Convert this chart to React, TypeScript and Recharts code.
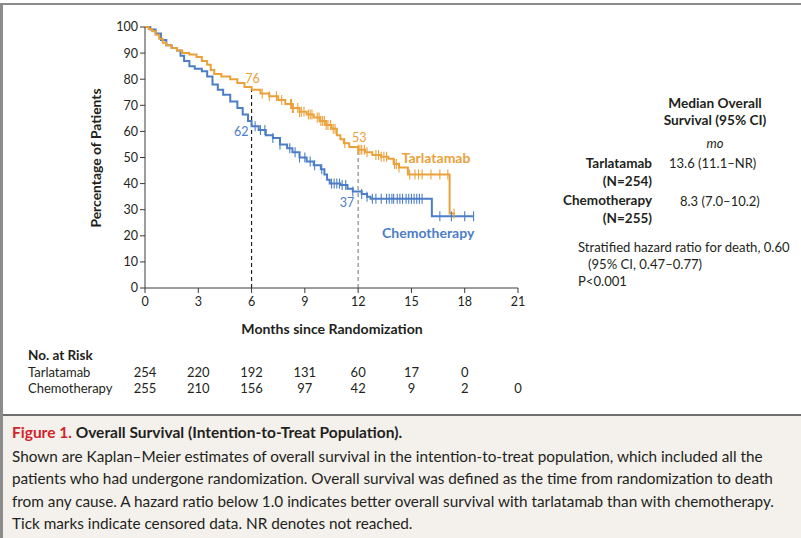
import {
  ComposedChart,
  Line,
  Scatter,
  XAxis,
  YAxis,
  ReferenceLine,
  ReferenceDot,
} from 'recharts';

const ORANGE = '#EBA13A';
const BLUE = '#4C7EC7';
const FONT = 'Lato, "Open Sans", sans-serif';

// Kaplan-Meier steps (months, % surviving)
const tarlaT = [0, 0.2, 0.4, 0.6, 0.8, 1.0, 1.2, 1.5, 1.8, 2.1, 2.5, 2.9, 3.2, 3.5, 3.7, 3.9, 4.3, 4.8, 5.2, 5.6, 6.0, 6.5, 7.0, 7.5, 7.9, 8.3, 8.7, 9.1, 9.5, 9.85, 10.2, 10.5, 10.8, 11.0, 11.2, 11.5, 12.0, 12.4, 12.8, 13.3, 13.7, 14.0, 14.3, 14.8, 17.15, 17.45];
const tarlaS = [100, 99.2, 98.4, 97, 95.5, 94, 93, 92, 91, 90, 89.5, 88.5, 87, 85.5, 83.5, 82, 81, 80, 78.5, 77, 76, 74.5, 73.5, 72, 70.5, 69, 67.5, 66.5, 65.3, 64, 62.5, 61, 58.5, 57, 55.5, 54, 53, 52, 51, 50.3, 49.5, 47.5, 46.2, 43.5, 28.5, 28.5];
const chemoT = [0, 0.3, 0.6, 0.9, 1.2, 1.5, 1.8, 2.0, 2.2, 2.5, 2.8, 3.2, 3.5, 3.8, 4.1, 4.4, 4.8, 5.2, 5.5, 5.8, 6.0, 6.4, 6.8, 7.2, 7.6, 8.0, 8.3, 8.7, 9.1, 9.5, 9.9, 10.1, 10.25, 10.4, 11.0, 11.4, 11.7, 12.2, 12.5, 12.7, 16.15, 18.5];
const chemoS = [100, 99, 97.5, 95, 93, 92, 91, 89, 87, 85, 84, 83, 81, 78, 76, 74, 71.5, 69, 66.5, 64, 62, 60.5, 58.5, 57.5, 55, 53.5, 52, 50, 48.5, 47, 45.5, 43.5, 41.5, 40, 39.5, 38, 37, 36, 35, 34.2, 27.5, 27.5];

// censored observations (months)
const tarlaCensor = [6.6, 7.0, 7.4, 7.7, 8.2, 8.25, 8.3, 8.35, 8.6, 8.7, 8.8, 8.95, 9.2, 9.3, 9.4, 9.7, 9.8, 9.9, 10.0, 10.1, 10.2, 10.3, 10.45, 10.6, 10.7, 11.25, 12.0, 12.1, 12.2, 12.35, 12.5, 13.0, 13.15, 13.3, 13.45, 13.6, 14.05, 14.15, 14.3, 14.9, 15.2, 15.4, 15.6, 16.1, 16.6, 17.05, 17.4];
const chemoCensor = [6.2, 6.5, 6.75, 7.2, 7.6, 8.15, 8.45, 8.7, 9.0, 9.3, 9.55, 9.95, 10.5, 10.65, 10.8, 10.95, 11.1, 11.3, 11.7, 12.2, 12.5, 12.8, 13.0, 13.3, 13.6, 13.75, 13.9, 14.0, 14.2, 14.35, 14.5, 14.7, 14.85, 15.0, 15.15, 15.3, 15.45, 15.6, 16.6, 17.25, 18.0, 18.5];

const monthTicks = [0, 3, 6, 9, 12, 15, 18, 21];
const pctTicks = [0, 10, 20, 30, 40, 50, 60, 70, 80, 90, 100];
const riskTarla = ['254', '220', '192', '131', '60', '17', '0', ''];
const riskChemo = ['255', '210', '156', '97', '42', '9', '2', '0'];

const captionLines = [
  'Shown are Kaplan–Meier estimates of overall survival in the intention-to-treat population, which included all the',
  'patients who had undergone randomization. Overall survival was defined as the time from randomization to death',
  'from any cause. A hazard ratio below 1.0 indicates better overall survival with tarlatamab than with chemotherapy.',
  'Tick marks indicate censored data. NR denotes not reached.',
];

const toSteps = (ts: number[], ss: number[]) => ts.map((t, i) => ({ t, s: ss[i] }));
const tarla = toSteps(tarlaT, tarlaS);
const chemo = toSteps(chemoT, chemoS);

const survAt = (steps: { t: number; s: number }[], t: number) => {
  let s = steps[0].s;
  for (const p of steps) if (p.t <= t) s = p.s;
  return s;
};
const tarlaMarks = tarlaCensor.map(t => ({ t, s: survAt(tarla, t) }));
const chemoMarks = chemoCensor.map(t => ({ t, s: survAt(chemo, t) }));

// plot area in page pixels
const PLOT_L = 145;
const PLOT_R = 518;
const xPx = (m: number) => PLOT_L + (m / 21) * (PLOT_R - PLOT_L);

function CensorTick(props: any) {
  const { cx, cy, fill } = props;
  if (cx == null || cy == null) return null;
  return <line x1={cx} x2={cx} y1={cy - 5} y2={cy + 5} stroke={fill} strokeWidth={1.1} />;
}

function tagLabel(text: string, color: string, dx: number, dy: number, anchor: string, size = 12.5, bold = false) {
  return {
    content: (p: any) => {
      const vb = p.viewBox || {};
      const x = (vb.x ?? 0) + (vb.width ?? 0) / 2;
      const y = (vb.y ?? 0) + (vb.height ?? 0) / 2;
      return (
        <text x={x + dx} y={y + dy} fill={color} fontSize={size} fontWeight={bold ? 700 : 400} textAnchor={anchor} fontFamily={FONT}>
          {text}
        </text>
      );
    },
  };
}

const abs = (left: number, top: number, extra: any = {}) => ({
  position: 'absolute' as const,
  left,
  top,
  whiteSpace: 'nowrap' as const,
  ...extra,
});

export default function App() {
  return (
    <div style={{ position: 'relative', width: 801, height: 538, background: '#fff', overflow: 'hidden', fontFamily: FONT, color: '#231f20' }}>
      <style>{'body{margin:0}'}</style>
      {/* frame */}
      <div style={{ position: 'absolute', left: 0, top: 3, width: 801, height: 2, background: '#8c8c8c' }} />
      <div style={{ position: 'absolute', left: 0, top: 3, width: 3, height: 535, background: '#8c8c8c' }} />

      <div style={{ position: 'absolute', left: 0, top: 0 }}>
        <ComposedChart width={560} height={320} margin={{ top: 27, right: 42, bottom: 2, left: 105 }}>
          <XAxis
            dataKey="t"
            type="number"
            domain={[0, 21]}
            ticks={monthTicks}
            allowDataOverflow
            height={30}
            tickSize={5}
            tickMargin={4}
            stroke="#3a3a3a"
            tick={{ fill: '#231f20', fontSize: 12.5, fontFamily: FONT }}
          />
          <YAxis
            dataKey="s"
            type="number"
            domain={[0, 100]}
            ticks={pctTicks}
            width={40}
            tickSize={5}
            tickMargin={2}
            stroke="#3a3a3a"
            tick={{ fill: '#231f20', fontSize: 12.5, fontFamily: FONT }}
          />
          <ReferenceLine segment={[{ x: 6, y: 0 }, { x: 6, y: 76 }]} stroke="#222" strokeDasharray="4 3" strokeWidth={1.2} />
          <ReferenceLine segment={[{ x: 12, y: 0 }, { x: 12, y: 53 }]} stroke="#8a8a8a" strokeDasharray="4 3" strokeWidth={1.2} />
          <Line data={chemo} dataKey="s" type="stepAfter" stroke={BLUE} strokeWidth={2} dot={false} isAnimationActive={false} />
          <Line data={tarla} dataKey="s" type="stepAfter" stroke={ORANGE} strokeWidth={2} dot={false} isAnimationActive={false} />
          <Scatter data={chemoMarks} dataKey="s" fill={BLUE} shape={<CensorTick />} isAnimationActive={false} />
          <Scatter data={tarlaMarks} dataKey="s" fill={ORANGE} shape={<CensorTick />} isAnimationActive={false} />
          <ReferenceDot x={6} y={76} r={0} stroke="none" fill="none" label={tagLabel('76', ORANGE, 1, -7, 'middle')} />
          <ReferenceDot x={6} y={62} r={0} stroke="none" fill="none" label={tagLabel('62', BLUE, -3, 10, 'end')} />
          <ReferenceDot x={12} y={53} r={0} stroke="none" fill="none" label={tagLabel('53', ORANGE, 1, -8, 'middle')} />
          <ReferenceDot x={12} y={37} r={0} stroke="none" fill="none" label={tagLabel('37', BLUE, -4, 16, 'end')} />
          <ReferenceDot x={14.45} y={50} r={0} stroke="none" fill="none" label={tagLabel('Tarlatamab', ORANGE, 0, 5, 'start', 14, true)} />
          <ReferenceDot x={13.35} y={21} r={0} stroke="none" fill="none" label={tagLabel('Chemotherapy', BLUE, 0, 5, 'start', 14, true)} />
        </ComposedChart>
      </div>

      {/* axis titles */}
      <div style={abs(95, 158, { transform: 'translate(-50%, -50%) rotate(-90deg)', fontWeight: 700, fontSize: 13.9 })}>
        Percentage of Patients
      </div>
      <div style={abs(332, 328, { transform: 'translate(-50%, -50%)', fontWeight: 700, fontSize: 14.1 })}>
        Months since Randomization
      </div>

      {/* median OS panel */}
      <div style={abs(715, 110.5, { transform: 'translate(-50%, -50%)', fontWeight: 700, fontSize: 13.7, textAlign: 'center', lineHeight: '17px' })}>
        Median Overall
        <br />
        Survival (95% CI)
      </div>
      <div style={abs(715, 143, { transform: 'translate(-50%, -50%)', fontStyle: 'italic', fontSize: 13 })}>mo</div>
      <div style={abs(652, 172, { transform: 'translate(-100%, -50%)', fontWeight: 700, fontSize: 13.5, textAlign: 'right', lineHeight: '18px' })}>
        Tarlatamab
        <br />
        (N=254)
      </div>
      <div style={abs(669, 163, { transform: 'translateY(-50%)', fontSize: 13 })}>13.6 (11.1–NR)</div>
      <div style={abs(652, 209, { transform: 'translate(-100%, -50%)', fontWeight: 700, fontSize: 13.5, textAlign: 'right', lineHeight: '18px' })}>
        Chemotherapy
        <br />
        (N=255)
      </div>
      <div style={abs(680, 201, { transform: 'translateY(-50%)', fontSize: 13 })}>8.3 (7.0–10.2)</div>
      <div style={abs(578, 264, { transform: 'translateY(-50%)', fontSize: 13.1, lineHeight: '17px' })}>
        Stratified hazard ratio for death, 0.60
        <br />
        <span style={{ paddingLeft: 10 }}>(95% CI, 0.47–0.77)</span>
        <br />
        P&lt;0.001
      </div>

      {/* number at risk */}
      <div style={abs(28, 355, { transform: 'translateY(-50%)', fontWeight: 700, fontSize: 13.5 })}>No. at Risk</div>
      <div style={abs(28, 372, { transform: 'translateY(-50%)', fontSize: 13 })}>Tarlatamab</div>
      <div style={abs(28, 388, { transform: 'translateY(-50%)', fontSize: 13 })}>Chemotherapy</div>
      {monthTicks.map((m, i) => (
        <div key={'t' + m} style={abs(xPx(m), 372, { transform: 'translate(-50%, -50%)', fontSize: 13 })}>
          {riskTarla[i]}
        </div>
      ))}
      {monthTicks.map((m, i) => (
        <div key={'c' + m} style={abs(xPx(m), 388, { transform: 'translate(-50%, -50%)', fontSize: 13 })}>
          {riskChemo[i]}
        </div>
      ))}

      {/* caption */}
      <div style={{ position: 'absolute', left: 3, top: 414, width: 798, height: 124, background: '#f4f1ec', borderTop: '2px solid #6e6e6e' }}>
        <div style={abs(9, 7, { fontSize: 15.5, fontWeight: 700 })}>
          <span style={{ color: '#d2232a' }}>Figure 1.</span> Overall Survival (Intention-to-Treat Population).
        </div>
        <div style={abs(9, 29, { fontSize: 15.3, lineHeight: '22.4px' })}>
          {captionLines.map((l, i) => (
            <div key={i}>{l}</div>
          ))}
        </div>
      </div>
    </div>
  );
}
